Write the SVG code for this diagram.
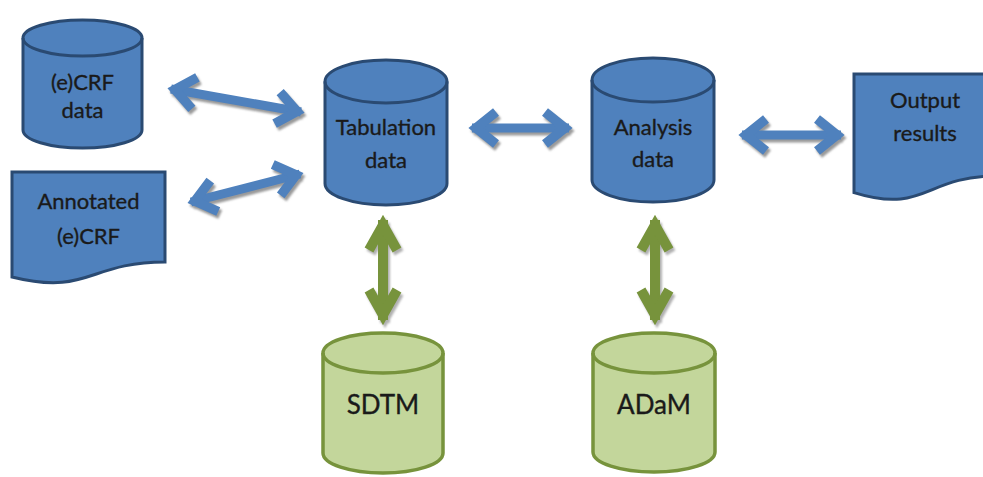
<svg xmlns="http://www.w3.org/2000/svg" width="983" height="477" viewBox="0 0 983 477">
<style>
.blue{fill:#4F81BD;stroke:#2A4A72;stroke-width:3}
.green{fill:#C3D69B;stroke:#77933C;stroke-width:3.5}
.lbl{font-family:Lato,"Open Sans",sans-serif;font-size:22px;fill:#1a1a1a;stroke:#1a1a1a;stroke-width:0.35;text-anchor:middle}
.big{font-size:26px}
.ab{fill:none;stroke:#4F81BD;stroke-width:9}
.ag{fill:none;stroke:#77933C;stroke-width:10}
.sh{fill:none;stroke:#9a9a9a;stroke-width:9}
</style>
<defs>
<marker id="mb" markerUnits="userSpaceOnUse" viewBox="-40 -30 60 60" refX="0" refY="0" markerWidth="60" markerHeight="60" orient="auto-start-reverse">
<path d="M-24,-16 L-4,0 L-24,16" fill="none" stroke="#4F81BD" stroke-width="9.5"/>
</marker>
<marker id="ms" markerUnits="userSpaceOnUse" viewBox="-40 -30 60 60" refX="0" refY="0" markerWidth="60" markerHeight="60" orient="auto-start-reverse">
<path d="M-24,-16 L-4,0 L-24,16" fill="none" stroke="#9a9a9a" stroke-width="9.5"/>
</marker>
<marker id="mg" markerUnits="userSpaceOnUse" viewBox="-40 -30 60 60" refX="0" refY="0" markerWidth="60" markerHeight="60" orient="auto-start-reverse">
<path d="M-30,-14 L-5,0 L-30,14" fill="none" stroke="#77933C" stroke-width="10"/>
</marker>
<marker id="mgs" markerUnits="userSpaceOnUse" viewBox="-40 -30 60 60" refX="0" refY="0" markerWidth="60" markerHeight="60" orient="auto-start-reverse">
<path d="M-30,-14 L-5,0 L-30,14" fill="none" stroke="#b0b0b0" stroke-width="10"/>
</marker>
<filter id="blur" x="-20%" y="-20%" width="140%" height="140%"><feGaussianBlur stdDeviation="1"/></filter>
</defs>
<rect width="983" height="477" fill="#ffffff"/>

<g id="connectors">
<g transform="translate(2,3)" filter="url(#blur)">
<path class="sh" d="M171,89 L301,112" marker-start="url(#ms)" marker-end="url(#ms)"/>
<path class="sh" d="M191,202 L300,174" marker-start="url(#ms)" marker-end="url(#ms)"/>
<path class="sh" d="M472,128 L569,128" marker-start="url(#ms)" marker-end="url(#ms)"/>
<path class="sh" d="M742,135 L841,135" marker-start="url(#ms)" marker-end="url(#ms)"/>
<path class="sh" style="stroke:#b0b0b0;stroke-width:10" d="M383,220 L383,320" marker-start="url(#mgs)" marker-end="url(#mgs)"/>
<path class="sh" style="stroke:#b0b0b0;stroke-width:10" d="M655,220 L655,320" marker-start="url(#mgs)" marker-end="url(#mgs)"/>
</g>
<path class="ab" d="M171,89 L301,112" marker-start="url(#mb)" marker-end="url(#mb)"/>
<path class="ab" d="M191,202 L300,174" marker-start="url(#mb)" marker-end="url(#mb)"/>
<path class="ab" d="M472,128 L569,128" marker-start="url(#mb)" marker-end="url(#mb)"/>
<path class="ab" d="M742,135 L841,135" marker-start="url(#mb)" marker-end="url(#mb)"/>
<path class="ag" d="M383,220 L383,320" marker-start="url(#mg)" marker-end="url(#mg)"/>
<path class="ag" d="M655,220 L655,320" marker-start="url(#mg)" marker-end="url(#mg)"/>
</g>

<g id="ecrf-data">
<path class="blue" d="M23,38 A59.5,18 0 0 1 142,38 L142,130 A59.5,18 0 0 1 23,130 Z"/>
<path class="blue" style="fill:none" d="M23,38 A59.5,18 0 0 0 142,38"/>
<text class="lbl" x="82.5" y="90">(e)CRF</text>
<text class="lbl" x="82.5" y="118">data</text>
</g>

<g id="annotated-ecrf">
<path class="blue" d="M12,172 H165 V262 C88.5,262 88.5,296 12,277 Z"/>
<text class="lbl" x="88.5" y="209">Annotated</text>
<text class="lbl" x="88.5" y="244">(e)CRF</text>
</g>

<g id="tabulation-data">
<path class="blue" d="M325,81.5 A61,21.5 0 0 1 447,81.5 L447,183.5 A61,21.5 0 0 1 325,183.5 Z"/>
<path class="blue" style="fill:none" d="M325,81.5 A61,21.5 0 0 0 447,81.5"/>
<text class="lbl" x="386" y="135">Tabulation</text>
<text class="lbl" x="386" y="168">data</text>
</g>

<g id="analysis-data">
<path class="blue" d="M592,80 A61,22 0 0 1 714,80 L714,180 A61,22 0 0 1 592,180 Z"/>
<path class="blue" style="fill:none" d="M592,80 A61,22 0 0 0 714,80"/>
<text class="lbl" x="653" y="135">Analysis</text>
<text class="lbl" x="653" y="167">data</text>
</g>

<g id="output-results">
<path class="blue" d="M854,74 H996 V176 C925,176 925,214.6 854,192.6 Z"/>
<text class="lbl" x="925" y="108">Output</text>
<text class="lbl" x="925" y="141">results</text>
</g>

<g id="sdtm">
<path class="green" d="M323,353 A60,20 0 0 1 443,353 L443,453 A60,20 0 0 1 323,453 Z"/>
<path class="green" style="fill:none" d="M323,353 A60,20 0 0 0 443,353"/>
<text class="lbl big" x="383" y="414">SDTM</text>
</g>

<g id="adam">
<path class="green" d="M593,353 A61,20 0 0 1 715,353 L715,452 A61,20 0 0 1 593,452 Z"/>
<path class="green" style="fill:none" d="M593,353 A61,20 0 0 0 715,353"/>
<text class="lbl big" x="654" y="414">ADaM</text>
</g>
</svg>
